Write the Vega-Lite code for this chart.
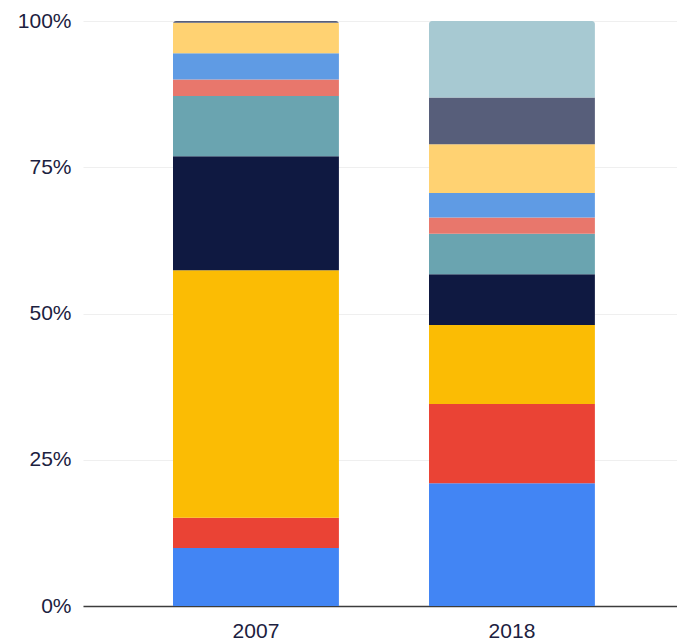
{
  "$schema": "https://vega.github.io/schema/vega-lite/v6.json",
  "width": 594,
  "height": 585,
  "autosize": {"type": "none"},
  "padding": {"left": 83, "top": 21, "right": 0, "bottom": 37},
  "background": "white",
  "data": {
    "values": [
      {"year": "2007", "cat": "A", "share": 9.9},
      {"year": "2007", "cat": "B", "share": 5.2},
      {"year": "2007", "cat": "C", "share": 42.3},
      {"year": "2007", "cat": "D", "share": 19.5},
      {"year": "2007", "cat": "E", "share": 10.3},
      {"year": "2007", "cat": "F", "share": 2.8},
      {"year": "2007", "cat": "G", "share": 4.5},
      {"year": "2007", "cat": "H", "share": 5.2},
      {"year": "2007", "cat": "I", "share": 0.3},
      {"year": "2007", "cat": "J", "share": 0},
      {"year": "2018", "cat": "A", "share": 21.0},
      {"year": "2018", "cat": "B", "share": 13.55},
      {"year": "2018", "cat": "C", "share": 13.5},
      {"year": "2018", "cat": "D", "share": 8.7},
      {"year": "2018", "cat": "E", "share": 6.9},
      {"year": "2018", "cat": "F", "share": 2.8},
      {"year": "2018", "cat": "G", "share": 4.2},
      {"year": "2018", "cat": "H", "share": 8.3},
      {"year": "2018", "cat": "I", "share": 8.0},
      {"year": "2018", "cat": "J", "share": 13.1}
    ]
  },
  "mark": {"type": "bar", "cornerRadiusEnd": 3},
  "encoding": {
    "x": {
      "field": "year",
      "type": "nominal",
      "scale": {"paddingInner": 0.3516, "paddingOuter": 0.336, "align": 0.523},
      "axis": {
        "title": null,
        "labelAngle": 0,
        "labelFont": "Liberation Sans",
        "labelFontSize": 21,
        "labelColor": "#1c2140",
        "labelPadding": 14,
        "ticks": false,
        "domain": true,
        "domainColor": "#3c3c3c",
        "domainWidth": 1.5,
        "grid": false
      }
    },
    "y": {
      "field": "share",
      "type": "quantitative",
      "stack": "normalize",
      "scale": {"domain": [0, 1]},
      "axis": {
        "title": null,
        "values": [0, 0.25, 0.5, 0.75, 1],
        "format": ".0%",
        "labelFont": "Liberation Sans",
        "labelFontSize": 21,
        "labelColor": "#1c2140",
        "labelPadding": 12,
        "ticks": false,
        "domain": false,
        "grid": true,
        "gridColor": "#efefef",
        "gridWidth": 1
      }
    },
    "color": {
      "field": "cat",
      "type": "nominal",
      "legend": null,
      "scale": {
        "domain": ["A", "B", "C", "D", "E", "F", "G", "H", "I", "J"],
        "range": ["#4285F4", "#EA4335", "#FBBC04", "#0F1941", "#6AA4B0", "#E8776C", "#5F9BE4", "#FFD272", "#575E7A", "#A7C9D2"]
      }
    },
    "order": {"field": "cat", "type": "nominal", "sort": "ascending"}
  },
  "config": {"view": {"stroke": null}}
}
